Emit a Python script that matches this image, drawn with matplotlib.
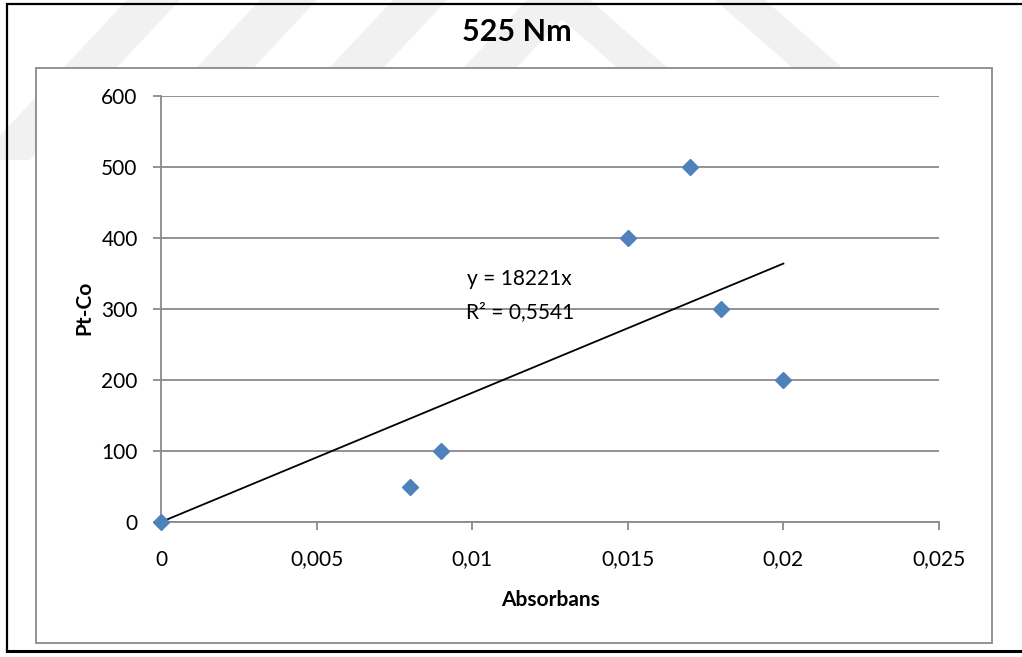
import matplotlib
matplotlib.use("Agg")
import matplotlib.pyplot as plt
from matplotlib.patches import Rectangle, Polygon
from matplotlib.ticker import FixedLocator, FuncFormatter

# ---- data ----
absorbans = [0.0, 0.008, 0.009, 0.015, 0.017, 0.018, 0.020]
pt_co = [0, 50, 100, 400, 500, 300, 200]
trend_slope = 18221
trend_r2 = 0.5541
x_ticks = [0, 0.005, 0.01, 0.015, 0.02, 0.025]
y_ticks = [0, 100, 200, 300, 400, 500, 600]
title_text = "525 Nm"
x_label = "Absorbans"
y_label = "Pt-Co"

FONT = "Lato"
GRID = "#8a8a8a"
BLUE = "#4F81BD"

W, H = 1022, 657
fig = plt.figure(figsize=(W / 100, H / 100), dpi=100)
fig.patch.set_facecolor("white")

# background layer in pixel coordinates (y grows downward)
bg = fig.add_axes([0, 0, 1, 1], zorder=0)
bg.set_xlim(0, W)
bg.set_ylim(H, 0)
bg.axis("off")

# faint striped watermark behind the chart frame
wm = "#f1f1f1"
for x0, x1 in [(127, 180), (260, 317), (393, 447), (527, 580)]:
    bg.add_patch(Polygon([(x0, 0), (x1, 0), (x1 - 150, 160), (x0 - 150, 160)],
                         closed=True, facecolor=wm, edgecolor="none"))
for x0, x1 in [(540, 590), (715, 765)]:
    bg.add_patch(Polygon([(x0, 0), (x1, 0), (x1 + 80, 70), (x0 + 80, 70)],
                         closed=True, facecolor=wm, edgecolor="none"))

# outer black border (left, top, bottom)
bg.plot([7, 7, W + 5], [651, 4, 4], color="black", lw=1.6, solid_joinstyle="miter")
bg.plot([7, W + 5], [651, 651], color="black", lw=2.2)

# chart area frame
bg.add_patch(Rectangle((36, 68), 956, 575, facecolor="white", edgecolor=GRID, lw=1.3))

# titles
bg.text(517, 32, title_text, ha="center", va="center", fontsize=22,
        fontweight="bold", family=FONT)
bg.text(550, 600, x_label, ha="center", va="center", fontsize=15,
        fontweight="bold", family=FONT)
bg.text(84, 308, y_label, ha="center", va="center", fontsize=15,
        fontweight="bold", family=FONT, rotation=90)

# plot area
ax = fig.add_axes([161 / W, 1 - 522 / H, 778 / W, 425.5 / H], zorder=1)
ax.set_facecolor("none")
ax.set_xlim(x_ticks[0], x_ticks[-1])
ax.set_ylim(y_ticks[0], y_ticks[-1])

for s in ["top", "right"]:
    ax.spines[s].set_visible(False)
for s in ["left", "bottom"]:
    ax.spines[s].set_color(GRID)
    ax.spines[s].set_linewidth(1.3)

ax.yaxis.grid(True, color=GRID, lw=1.3)
ax.set_axisbelow(True)

ax.xaxis.set_major_locator(FixedLocator(x_ticks))
ax.yaxis.set_major_locator(FixedLocator(y_ticks))
fmt = FuncFormatter(lambda v, p: f"{v:g}".replace(".", ","))
ax.xaxis.set_major_formatter(fmt)
ax.yaxis.set_major_formatter(fmt)
ax.tick_params(axis="both", direction="out", length=5.8, width=1.3, color=GRID,
               labelsize=15)
ax.tick_params(axis="y", pad=11)
ax.tick_params(axis="x", pad=14)
for lab in ax.get_xticklabels() + ax.get_yticklabels():
    lab.set_family(FONT)

# linear trend through the origin
x_end = max(absorbans)
ax.plot([0, x_end], [0, trend_slope * x_end], color="black", lw=1.3, zorder=2)

# data points
ax.plot(absorbans, pt_co, linestyle="none", marker="D", markersize=8,
        color=BLUE, markeredgecolor=BLUE, clip_on=False, zorder=3)

# trend equation
ax.text(0.00984, 343, f"y = {trend_slope}x", ha="left", va="center",
        fontsize=15, family=FONT)
ax.text(0.00981, 296, "R² = " + f"{trend_r2}".replace(".", ","), ha="left",
        va="center", fontsize=15, family=FONT)

fig.savefig("out.png", dpi=100)
